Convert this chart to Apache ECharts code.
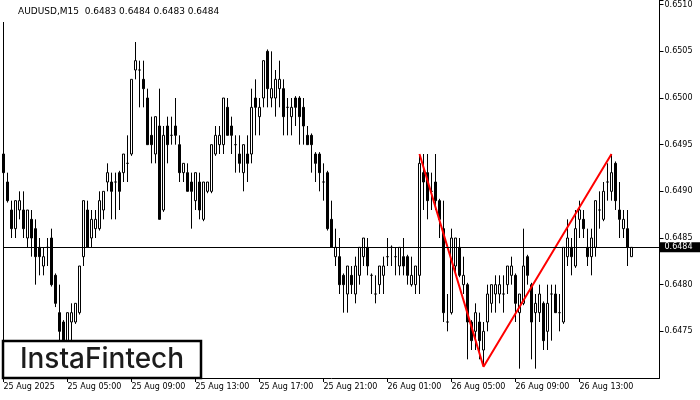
<!DOCTYPE html>
<html>
<head>
<meta charset="utf-8">
<script src="https://cdn.jsdelivr.net/npm/echarts@6/dist/echarts.min.js"></script>
<style>
html,body{margin:0;padding:0;background:#fff;}
#chart{width:700px;height:400px;}
</style>
</head>
<body>
<div id="chart"></div>
<script>
// AUDUSD M15, 25 Aug 2025 01:00 .. 26 Aug 2025 16:15
const tickLabels = ['25 Aug 2025','25 Aug 05:00','25 Aug 09:00','25 Aug 13:00','25 Aug 17:00','25 Aug 21:00','26 Aug 01:00','26 Aug 05:00','26 Aug 09:00','26 Aug 13:00'];
const barsPerTick = 16;
const totalSlots = 165;

const opens = [
0.6494,0.6491,0.6488,0.6486,0.6488,0.6488,0.6485,0.6487,0.6486,0.6484,
0.6482,0.6484,0.6485,0.6481,0.6477,0.6476,0.6474,0.6476,0.6476,0.6477,
0.6483,0.6488,0.6485,0.6486,0.6486,0.6488,0.6491,0.6491,0.6491,0.6492,
0.6492,0.6493,0.6494,0.6503,0.6503,0.6502,0.6500,0.6496,0.6494,0.6497,
0.6488,0.6497,0.6496,0.6497,0.6495,0.6492,0.6492,0.6491,0.6489,0.6491,
0.6487,0.6490,0.6490,0.6494,0.6495,0.6495,0.6499,0.6497,0.6495,0.6494,
0.6492,0.6494,0.6494,0.6500,0.6498,0.6500,0.6505,0.6500,0.6500,0.6501,
0.6501,0.6499,0.6498,0.6500,0.6500,0.6499,0.6496,0.6496,0.6494,0.6494,
0.6491,0.6492,0.6487,0.6483,0.6483,0.6481,0.6479,0.6481,0.6479,0.6481,
0.6483,0.6484,0.6481,0.6479,0.6480,0.6481,0.6483,0.6484,0.6483,0.6482,
0.6483,0.6483,0.6480,0.6480,0.6481,0.6492,0.6492,0.6490,0.6491,0.6489,
0.6486,0.6476,0.6477,0.6482,0.6484,0.6480,0.6480,0.6476,0.6475,0.6476,
0.6473,0.6476,0.6478,0.6479,0.6479,0.6479,0.6480,0.6481,0.6481,0.6477,
0.6478,0.6483,0.6480,0.6477,0.6477,0.6478,0.6475,0.6479,0.6479,0.6477,
0.6476,0.6483,0.6484,0.6482,0.6487,0.6487,0.6484,0.6483,0.6484,0.6488,
0.6487,0.6491,0.6490,0.6493,0.6488,0.6486,0.6486,0.6483];

const highs = [
0.6496,0.6492,0.6489,0.6489,0.6490,0.6490,0.6488,0.6488,0.6487,0.6485,
0.6484,0.6485,0.6486,0.64812,0.6480,0.64762,0.6477,0.6478,0.6478,0.6482,
0.6489,0.6489,0.6488,0.6488,0.6490,0.6490,0.6493,0.6492,0.6492,0.64922,
0.6494,0.6496,0.6502,0.6506,0.6504,0.6504,0.6501,0.6498,0.6498,0.6501,
0.6497,0.6498,0.6498,0.6500,0.6496,0.6493,0.6493,0.6492,0.6492,0.6492,
0.6491,0.6491,0.6495,0.6497,0.6497,0.6500,0.6500,0.6498,0.6496,0.6496,
0.6495,0.6496,0.6501,0.6502,0.6500,0.6504,0.65052,0.6505,0.6503,0.6504,
0.6502,0.6500,0.6500,0.65002,0.65002,0.6500,0.6497,0.64962,0.64942,0.64942,
0.6493,0.64922,0.6489,0.6486,0.6485,0.64812,0.6482,0.6482,0.6483,0.6484,
0.6485,0.6485,0.64812,0.6481,0.6482,0.6483,0.6485,0.64842,0.6484,0.6484,
0.6485,0.64832,0.6483,0.6482,0.6494,0.6494,0.6494,0.6492,0.6494,0.64892,
0.6489,0.6479,0.6486,0.6485,0.6485,0.6483,0.64802,0.64762,0.6478,0.6477,
0.6476,0.6480,0.6480,0.6481,0.6481,0.6481,0.6482,0.6483,0.64812,0.6479,
0.6486,0.64832,0.64802,0.6479,0.6480,0.64782,0.6480,0.6480,0.6480,0.6479,
0.6484,0.6487,0.6485,0.6488,0.6489,0.6488,0.6486,0.6486,0.6489,0.6490,
0.6491,0.6493,0.6494,0.64932,0.6491,0.6488,0.6488,0.6484];

const lows = [
0.6490,0.64888,0.6485,0.6485,0.6487,0.6485,0.6484,0.6483,0.6480,0.6481,
0.6481,0.6482,0.64798,0.64776,0.6474,0.64735,0.64735,0.6474,0.64758,0.64768,
0.6482,0.6484,0.6484,0.6485,0.64858,0.6487,0.6490,0.6487,0.6487,0.6488,
0.6491,0.6491,0.64938,0.6502,0.6499,0.6499,0.6495,0.6493,0.6493,0.6487,
0.64878,0.6493,0.6495,0.6495,0.6491,0.6491,0.6490,0.6486,0.6488,0.6487,
0.64868,0.64898,0.64898,0.64938,0.6494,0.6494,0.6496,0.6494,0.6492,0.6492,
0.6490,0.6491,0.6493,0.6496,0.6496,0.6499,0.6499,0.6499,0.6498,0.6499,
0.6496,0.6496,0.6496,0.6497,0.6495,0.6495,0.6495,0.6492,0.6491,0.6490,
0.6489,0.64858,0.6484,0.6482,0.6479,0.6477,0.6477,0.6479,0.6478,0.6480,
0.6482,0.6481,0.6479,0.6478,0.6479,0.6479,0.6482,0.6482,0.6481,0.6481,
0.6481,0.6480,0.64798,0.6479,0.6479,0.6488,0.6487,0.6488,0.6488,0.6485,
0.6476,0.6475,0.64768,0.6481,0.64808,0.6479,0.6472,0.6473,0.6473,0.6472,
0.64712,0.6475,0.6477,0.6477,0.6478,0.6477,0.6479,0.6480,0.6476,0.6471,
0.64778,0.6480,0.6472,0.6471,0.6476,0.6473,0.6473,0.6474,0.6477,0.6475,
0.64758,0.6482,0.6481,0.64818,0.6485,0.6485,0.6482,0.6481,0.6483,0.6486,
0.64868,0.6489,0.6489,0.6488,0.6485,0.6485,0.6482,0.6483];

const closes = [
0.6492,0.6489,0.6486,0.6489,0.6489,0.6486,0.6488,0.6485,0.6483,0.6483,
0.6483,0.6484,0.6480,0.6478,0.6475,0.6474,0.6477,0.6477,0.6478,0.6482,
0.6489,0.6484,0.6487,0.6487,0.6489,0.6490,0.6492,0.6490,0.6491,0.6490,
0.6494,0.6493,0.6502,0.6504,0.6503,0.6501,0.6495,0.6495,0.6498,0.6487,
0.6496,0.6495,0.6496,0.6496,0.6492,0.6493,0.6490,0.6490,0.6492,0.6488,
0.6491,0.6491,0.6495,0.6496,0.6496,0.6500,0.6496,0.6496,0.6495,0.6493,
0.6495,0.6493,0.6499,0.6499,0.6499,0.6504,0.6501,0.6501,0.6502,0.6502,
0.6498,0.6499,0.6499,0.6499,0.6498,0.6497,0.6495,0.6495,0.6493,0.6492,
0.6491,0.6486,0.6484,0.6484,0.6480,0.6480,0.6482,0.6480,0.6482,0.6484,
0.6485,0.6482,0.6481,0.6479,0.6482,0.6482,0.6483,0.6484,0.6483,0.6484,
0.6482,0.6481,0.6481,0.6482,0.6493,0.6491,0.6489,0.6490,0.6489,0.6487,
0.6477,0.6476,0.6485,0.6485,0.6481,0.6481,0.6476,0.6474,0.6477,0.6474,
0.6475,0.6479,0.6480,0.6480,0.6480,0.6479,0.6482,0.6482,0.6478,0.6479,
0.6482,0.6481,0.6476,0.6478,0.6479,0.6474,0.6478,0.6479,0.6477,0.6477,
0.6484,0.6485,0.6483,0.6486,0.6488,0.6486,0.6483,0.6485,0.6489,0.6488,
0.6490,0.6491,0.6492,0.6489,0.6487,0.6487,0.6484,0.6484];

// pattern line vertices: [bar index, price]
const patternIdx = [104, 120, 152];
const patternPrice = [0.6494, 0.64712, 0.6494];

const yMin = 0.6470, yMax = 0.65105, yStep = 0.0005;
const titleText = 'AUDUSD,M15  0.6483 0.6484 0.6483 0.6484';
const logoText = 'InstaFintech';

const categories = [];
for (let i = 0; i < totalSlots; i++) {
  categories.push(i % barsPerTick === 0 && tickLabels[i / barsPerTick] ? tickLabels[i / barsPerTick] : '');
}
const candles = opens.map((o, i) => [o, closes[i], lows[i], highs[i]]);
const pattern = patternIdx.map((x, k) => [x, patternPrice[k]]);
const lastPrice = closes[closes.length - 1];
const showTick = (idx) => idx % barsPerTick === 0 && !!tickLabels[idx / barsPerTick];
const FONT = 'DejaVu Sans';

const chart = echarts.init(document.getElementById('chart'), null, {renderer: 'canvas'});
chart.setOption({
  animation: false,
  backgroundColor: '#ffffff',
  textStyle: {fontFamily: FONT},
  grid: {left: 3.5, right: 40.5, top: 0, bottom: 22, outerBoundsMode: 'none', containLabel: false},
  xAxis: [{
    type: 'category',
    data: categories,
    boundaryGap: false,
    axisLine: {show: true, lineStyle: {color: '#000', width: 1}},
    axisTick: {show: true, interval: (idx) => showTick(idx), length: 4, lineStyle: {color: '#000'}},
    axisLabel: {show: true, interval: (idx) => showTick(idx), align: 'left', margin: 5,
      color: '#000', fontFamily: FONT, fontSize: 8, hideOverlap: false},
    splitLine: {show: false}
  }],
  yAxis: [{
    type: 'value', position: 'right', min: yMin, max: yMax, interval: yStep, scale: true,
    axisLine: {show: true, lineStyle: {color: '#000', width: 1}},
    axisTick: {show: true, length: 4, lineStyle: {color: '#000'}},
    axisLabel: {show: true, margin: 5, color: '#000', fontFamily: FONT, fontSize: 8,
      showMinLabel: false,
      formatter: (v) => {
        const k = Math.round(v / yStep);
        if (Math.abs(v - k * yStep) > 1e-7 || v < yMin + yStep / 2) return '';
        return v.toFixed(4);
      }},
    splitLine: {show: false}
  }, {
    type: 'value', position: 'left', min: yMin, max: yMax,
    axisLine: {show: true, lineStyle: {color: '#000', width: 1}},
    axisTick: {show: false}, axisLabel: {show: false}, splitLine: {show: false}
  }],
  series: [{
    type: 'candlestick',
    data: candles,
    barWidth: 2,
    clip: false,
    itemStyle: {color: '#ffffff', color0: '#000000', borderColor: '#000000', borderColor0: '#000000', borderWidth: 1},
    markLine: {
      silent: true, symbol: ['none', 'none'], animation: false, precision: 5,
      lineStyle: {color: '#000', width: 1, type: 'solid'},
      label: {show: true, position: 'end', distance: 0, formatter: (p) => Number(p.value).toFixed(4),
        backgroundColor: '#000', color: '#fff', fontFamily: FONT, fontSize: 8, lineHeight: 8,
        padding: [1, 10, 1, 5]},
      data: [{yAxis: lastPrice}]
    },
    z: 2
  }, {
    type: 'line',
    data: pattern,
    symbol: 'none',
    lineStyle: {color: '#ff0000', width: 2},
    z: 3
  }],
  graphic: [
    {type: 'rect', shape: {x: 0, y: 0, width: 10, height: 22}, style: {fill: '#fff'}, z: 50},
    {type: 'text', x: 18, y: 12, style: {text: titleText, font: '9px "DejaVu Sans"', fill: '#000', verticalAlign: 'middle'}, z: 51},
    {type: 'rect', shape: {x: 3, y: 341, width: 198, height: 37}, style: {fill: '#fff', stroke: '#000', lineWidth: 2.5}, z: 60},
    {type: 'text', x: 102, y: 359.5, style: {text: logoText, font: '500 28px Inter', fill: '#1c1c1c', align: 'center', verticalAlign: 'middle'}, z: 61}
  ]
});
</script>
</body>
</html>
